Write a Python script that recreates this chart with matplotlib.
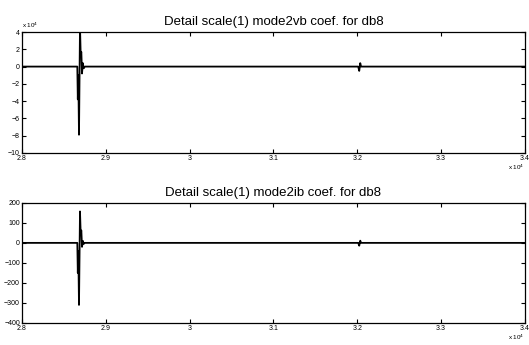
import matplotlib
matplotlib.use("Agg")
import matplotlib.pyplot as plt
import numpy as np

plt.rcParams['font.family'] = ['Liberation Sans', 'DejaVu Sans']

# x axis in units of 1e4 samples
x_vb = [2.8, 2.8660, 2.8666, 2.8672, 2.8680, 2.8692, 2.8700, 2.8708, 2.8716,
        2.8726, 2.8736, 2.8750, 3.2012, 3.2024, 3.2036, 3.2046, 3.4]
# mode2vb coef, units of 1e4
y_vb = [0, 0, -3.8, -1.0, -7.9, 4.6, 1.5, 1.7, -0.8,
        0.4, -0.2, 0, 0, -0.5, 0.4, 0, 0]

x_ib = x_vb
# mode2ib coef
y_ib = [0, 0, -150, -40, -310, 157, 50, 62, -20,
        10, -5, 0, 0, -14, 11, 0, 0]

xticks = [2.8, 2.9, 3.0, 3.1, 3.2, 3.3, 3.4]
xticklabels = ['2.8', '2.9', '3', '3.1', '3.2', '3.3', '3.4']
vb_yticks = list(range(-10, 5, 2))
ib_yticks = list(range(-400, 201, 100))

fig = plt.figure(figsize=(5.29, 3.45), dpi=100)
ax1 = fig.add_axes([0.0416, 0.557, 0.9505, 0.350])
ax2 = fig.add_axes([0.0416, 0.064, 0.9505, 0.348])


def style_axis(ax, yticks, title):
    ax.set_xlim(2.8, 3.4)
    ax.set_ylim(yticks[0], yticks[-1])
    ax.set_xticks(xticks)
    ax.set_xticklabels(xticklabels)
    ax.set_yticks(yticks)
    ax.tick_params(direction='in', length=3, width=0.8, labelsize=5,
                   top=True, right=True, pad=1.5)
    for s in ax.spines.values():
        s.set_linewidth(0.9)
    ax.set_title(title, fontsize=9.5, pad=5)
    ax.text(1.0, -0.085, r'x 10$^4$', transform=ax.transAxes, fontsize=4.5,
            ha='right', va='top')


ax1.plot(x_vb, y_vb, color='black', linewidth=1.3)
style_axis(ax1, vb_yticks, 'Detail scale(1) mode2vb coef. for db8')
ax1.text(0.0, 1.02, r'x 10$^4$', transform=ax1.transAxes, fontsize=4.5,
         ha='left', va='bottom')

ax2.plot(x_ib, y_ib, color='black', linewidth=1.3)
style_axis(ax2, ib_yticks, 'Detail scale(1) mode2ib coef. for db8')

fig.savefig('out.png', dpi=100)
